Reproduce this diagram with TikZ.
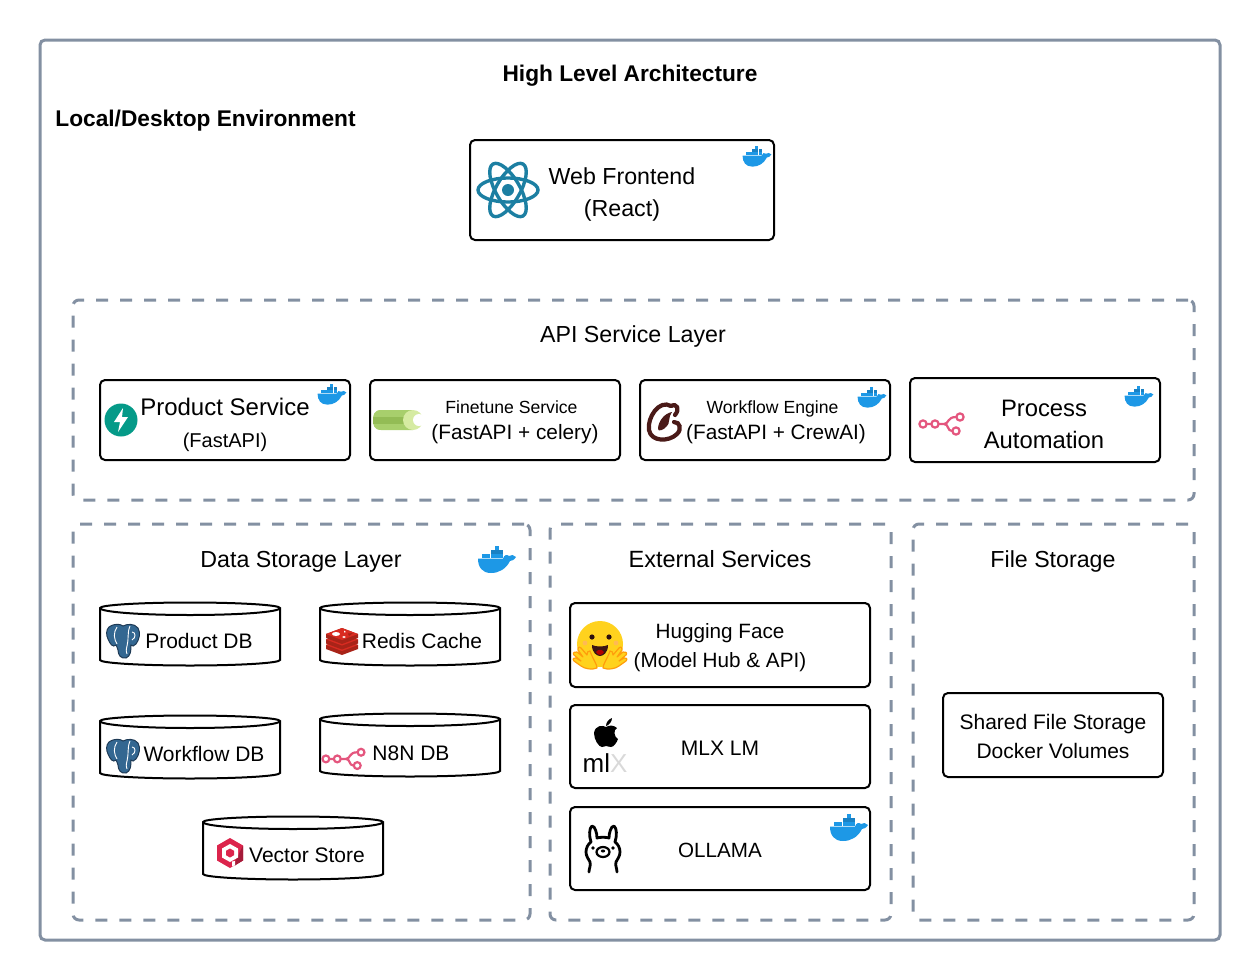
\documentclass[tikz,border=0pt]{standalone}
\usepackage{fontspec}
\setmainfont{Liberation Sans}
\usetikzlibrary{positioning}

\definecolor{framegray}{HTML}{8390A2}
\definecolor{dockerblue}{HTML}{1D98E6}
\definecolor{reactteal}{HTML}{1C7FA2}
\definecolor{fastteal}{HTML}{059A88}
\definecolor{n8npink}{HTML}{E4567E}
\definecolor{pgblue}{HTML}{336791}
\definecolor{pgdark}{HTML}{1E3A55}
\definecolor{redisred}{HTML}{D92B21}
\definecolor{redisdark}{HTML}{A82318}
\definecolor{qdrantred}{HTML}{DC244C}
\definecolor{crewbrown}{HTML}{4A1A18}
\definecolor{celerygreen}{HTML}{A8CF6C}
\definecolor{celerydark}{HTML}{93BC55}
\definecolor{celerylight}{HTML}{D6EBA2}
\definecolor{hfyellow}{HTML}{FFD21E}
\definecolor{hforange}{HTML}{FF9D0B}

\tikzset{
  dbdrum/.pic={
    \draw[line width=1pt] (-90,-26) .. controls (-90,-29) and (-50,-31.5) .. (0,-31.5)
      .. controls (50,-31.5) and (90,-29) .. (90,-26) -- (90,26)
      .. controls (90,29) and (50,31.5) .. (0,31.5) .. controls (-50,31.5) and (-90,29) .. (-90,26) -- cycle;
    \draw[line width=1pt] (-90,-26) .. controls (-90,-22) and (-50,-19) .. (0,-19)
      .. controls (50,-19) and (90,-22) .. (90,-26);
  },
  dockericon/.pic={
    \fill[dockerblue] (-19,-.5) -- (6,-.5) .. controls (7,-4) and (10,-5) .. (12,-3)
      .. controls (14,-5) and (17,-4) .. (19,-2) .. controls (17,1) and (15,2) .. (13,2)
      .. controls (9,10) and (2,14) .. (-6,14) .. controls (-15,14) and (-19,8) .. (-19,-.5) -- cycle;
    \foreach \i in {0,...,4}
      \fill[dockerblue] (-15+\i*4.3,-4.8) rectangle ++(3.9,3.9);
    \foreach \i in {2,3,4}
      \fill[dockerblue!85!black] (-15+\i*4.3,-9.1) rectangle ++(3.9,3.9);
    \fill[dockerblue] (-15+3*4.3,-13.4) rectangle ++(3.9,3.9);
  },
  reacticon/.pic={
    \foreach \a in {0,60,120}
      \draw[reactteal, line width=1.7pt, rotate=\a] (0,0) ellipse (30 and 12);
    \fill[reactteal] (0,0) circle (6);
  },
  fasticon/.pic={
    \fill[fastteal] (0,0) circle (16.5);
    \fill[white] (2,-12) -- (-7,2) -- (-1,2) -- (-3,12) -- (7,-3) -- (1,-3) -- cycle;
  },
  celeryicon/.pic={
    \fill[celerygreen] (15,-10) -- (-17,-10) .. controls (-24,-10) and (-25,-5) .. (-25,0)
      .. controls (-25,5) and (-24,10) .. (-17,10) -- (15,10) -- cycle;
    \fill[celerydark] (-25,-3.5) rectangle (14,3.5);
    \fill[celerylight] (15,0) circle (10);
    \fill[white] (21,0) circle (6);
  },
  crewicon/.pic={
    \draw[crewbrown, line width=2.1pt, line cap=round]
      (7,-15) .. controls (-5,-22) and (-17,-3) .. (-15,9)
      .. controls (-13,21) and (5,21) .. (13,13)
      .. controls (18,8) and (16,1) .. (10,1);
    \draw[crewbrown, line width=2.1pt, line cap=round]
      (7,-15) .. controls (13,-18) and (16,-12) .. (11,-6);
    \fill[crewbrown] (-6,8) .. controls (-6,0) and (1,-8) .. (8,-9)
      .. controls (4,-4) and (6,3) .. (3,5) .. controls (0,9) and (-6,11) .. (-6,8) -- cycle;
  },
  n8nicon/.pic={
    \draw[n8npink, line width=1.1pt]
      (-14.5,2) -- (-9,2) (-3,2) -- (3,2)
      .. controls (8,2) and (6,-5) .. (15,-5)
      (3,2) .. controls (8,2) and (6,9) .. (11,9);
    \foreach \p in {(-18,2),(-6,2),(19,-5),(15,9)}
      \draw[n8npink, line width=1.1pt] \p circle (3.6);
  },
  pgicon/.pic={
    \draw[pgblue, fill=pgblue, line width=.5pt, draw=pgdark]
      (-14,-14) .. controls (-8,-18) and (-3,-17) .. (0,-15)
      .. controls (4,-17) and (11,-18) .. (15,-13)
      .. controls (18,-8) and (16,-1) .. (13,3)
      .. controls (11,5) and (9,6) .. (8,4)
      .. controls (8,9) and (8,15) .. (3,17)
      .. controls (-2,18) and (-5,14) .. (-5,9)
      .. controls (-6,7) and (-6,5) .. (-7,4)
      .. controls (-10,7) and (-13,3) .. (-15,-2)
      .. controls (-17,-6) and (-17,-11) .. (-14,-14) -- cycle;
    \draw[white, line width=.45pt]
      (-6,-14) .. controls (-10,-8) and (-9,-2) .. (-6,3)
      (7,-15) .. controls (4,-8) and (6,-2) .. (4,5) .. controls (3,9) and (3,11) .. (4,13)
      (9,-9) .. controls (13,-9) and (13,-3) .. (9,-1);
  },
  redisicon/.pic={
    \foreach \y in {4,-1.5}{
      \fill[redisdark] (-16,\y) -- (0,\y-6) -- (16,\y) -- (16,\y+4) -- (0,\y+10) -- (-16,\y+4) -- cycle;
      \fill[redisred] (-16,\y) -- (0,\y-6) -- (16,\y) -- (0,\y+6) -- cycle;
    }
    \fill[redisdark] (-16,-7) -- (0,-13) -- (16,-7) -- (16,-3) -- (0,3) -- (-16,-3) -- cycle;
    \fill[redisred] (-16,-7) -- (0,-13) -- (16,-7) -- (0,-1) -- cycle;
    \fill[white] (-6,-7) ellipse (4 and 2);
    \fill[white] (2,-10.5) -- (4,-9) -- (2,-8.5) -- cycle;
    \fill[white] (2,-4) ellipse (1.8 and 1);
    \fill[redisdark] (6,-7.5) -- (11,-8) -- (7,-5) -- cycle;
  },
  qdranticon/.pic={
    \fill[qdrantred] (0,-15) -- (13,-7.5) -- (13,7.5) -- (6,11.5) -- (0,15) -- (-13,7.5) -- (-13,-7.5) -- cycle;
    \fill[qdrantred!75!black] (13,-7.5) -- (13,7.5) -- (5,12.5) -- (5,9) -- cycle;
    \fill[white] (0,-9) -- (8,-4.5) -- (8,4.5) -- (0,9) -- (-8,4.5) -- (-8,-4.5) -- cycle;
    \fill[qdrantred] (0,-4.5) -- (4,-2.2) -- (4,2.2) -- (0,4.5) -- (-4,2.2) -- (-4,-2.2) -- cycle;
    \fill[white] (2,8.5) -- (5,8) -- (5,12) -- (2,13.5) -- cycle;
  },
  hfacicon/.pic={
    \fill[hfyellow] (0,0) circle (23);
    \fill[crewbrown!60!black] (-8,-7) circle (2.6) (9,-7) circle (2.6);
    \fill[hforange!70!white] (-15,-1) circle (2.4) (16,-1) circle (2.4);
    \fill[crewbrown!80!black] (-8,1) .. controls (-4,3) and (4,3) .. (8,1) .. controls (8,9) and (3,12) .. (0,12) .. controls (-3,12) and (-8,9) .. (-8,1) -- cycle;
    \fill[red!70!black] (-4,8) .. controls (-2,5) and (2,5) .. (4,8) .. controls (2,12) and (-2,12) .. (-4,8) -- cycle;
    \foreach \s in {-1,1}{
      \begin{scope}[xscale=\s]
        \draw[hforange, fill=hfyellow, line width=.6pt, line join=round]
          (3,24) .. controls (8,26) and (15,25) .. (19,22) -- (26,17) .. controls (28,15) and (26,13) .. (24,14)
          -- (19,17) -- (26,11) .. controls (28,9) and (25,7) .. (23,8) -- (17,13) -- (22,6) .. controls (23,4) and (21,2) .. (19,4)
          -- (13,11) .. controls (13,8) and (12,7) .. (10,7) .. controls (9,10) and (7,14) .. (5,18) .. controls (4,20) and (3,22) .. (3,24) -- cycle;
      \end{scope}
    }
  },
  appleicon/.pic={
    \fill[black] (0,-6) .. controls (-3,-8) and (-11,-8) .. (-12,0) .. controls (-12,7) and (-7,14) .. (-4,14)
      .. controls (-2,14) and (-1,13) .. (0,13) .. controls (1,13) and (3,14) .. (5,14)
      .. controls (8,14) and (11,9) .. (12,6) .. controls (8,4) and (7,-3) .. (11,-5)
      .. controls (8,-8) and (3,-8) .. (0,-6) -- cycle;
    \fill[black] (0,-7) .. controls (0,-11) and (3,-14) .. (6,-15) .. controls (6,-11) and (3,-8) .. (0,-7) -- cycle;
  },
  llamaicon/.pic={
    \draw[black, line width=1.4pt, line join=round, line cap=round]
      (-14,23) .. controls (-14,19) and (-12,17) .. (-13,13) .. controls (-14,10) and (-17,8) .. (-17,3)
      .. controls (-17,-1) and (-15,-5) .. (-12,-7) .. controls (-14,-13) and (-14,-21) .. (-11,-23)
      .. controls (-8,-23) and (-6,-16) .. (-6,-11) .. controls (-3,-12) and (3,-12) .. (6,-11)
      .. controls (6,-16) and (8,-23) .. (11,-23) .. controls (14,-21) and (14,-13) .. (12,-7)
      .. controls (15,-5) and (17,-1) .. (17,3) .. controls (17,8) and (14,10) .. (13,13)
      .. controls (12,17) and (14,19) .. (14,23);
    \draw[black, line width=1.1pt] (0,3) ellipse (6.5 and 5);
    \fill[black] (-10,-1) circle (1.8) (10,-1) circle (1.8) (0,2) ellipse (2.2 and 1.5);
  }
}

\begin{document}
\begin{tikzpicture}[
    x=.5pt, y=-.5pt,
    framebox/.style={draw=framegray, line width=1.5pt, rounded corners=2.5pt, minimum width=590pt, minimum height=450pt},
    layerbox/.style={draw=framegray, line width=1.5pt, dash pattern=on 6pt off 6pt, rounded corners=3pt},
    svcbox/.style={draw, line width=1pt, rounded corners=2.5pt, inner sep=0pt},
    txt/.style={inner sep=0pt, align=center, font=\fontsize{11.6}{16}\selectfont},
    boldtxt/.style={inner sep=0pt, font=\fontsize{11.35}{14}\bfseries\selectfont},
    midtxt/.style={inner sep=0pt, align=center, font=\fontsize{10.5}{14.5}\selectfont},
    duotxt/.style={inner sep=0pt, align=center, font=\fontsize{10.4}{13}\selectfont}
  ]
  \useasboundingbox (0,0) rectangle (1260,980);

  % Outer frame
  \node[framebox] (frame) at (630,490) {};
  \node[boldtxt] (title) at (630,76) {High Level Architecture};
  \node[boldtxt, anchor=west] (local) at (55,121) {Local/Desktop Environment};

  % Frontend
  \node[svcbox, minimum width=152pt, minimum height=50pt] (web) at (622,190) {};
  \node[txt] (webtxt) at (622,194) {Web Frontend\\(React)};
  \pic at (508,190) {reacticon};
  \pic[scale=.76] at (757,156) {dockericon};

  % API layer
  \node[layerbox, minimum width=560.5pt, minimum height=100pt] (api) at (633.5,400) {};
  \node[txt] (apitxt) at (633,336) {API Service Layer};

  \node[svcbox, minimum width=125pt, minimum height=40pt] (product) at (225,420) {};
  \node[txt, font=\fontsize{12}{16}\selectfont] (producttxt) at (225,425) {Product Service\\{\fontsize{10}{13}\selectfont (FastAPI)}};
  \pic at (121,420) {fasticon};
  \pic[scale=.76] at (332,394) {dockericon};

  \node[svcbox, minimum width=125pt, minimum height=40pt] (finetune) at (495,420) {};
  \node[duotxt] (finetunetxt) at (515,422) {{\fontsize{8.8}{13}\selectfont Finetune Service}\hspace*{3.5pt}\\(FastAPI + celery)};
  \pic at (398,420) {celeryicon};

  \node[svcbox, minimum width=125pt, minimum height=40pt] (engine) at (765,420) {};
  \node[duotxt] (enginetxt) at (776,422) {{\fontsize{8.8}{13}\selectfont Workflow Engine}\hspace*{3.5pt}\\(FastAPI + CrewAI)};
  \pic at (664,421) {crewicon};
  \pic[scale=.76] at (872,397) {dockericon};

  \node[svcbox, minimum width=125pt, minimum height=42pt] (automation) at (1035,420) {};
  \node[txt, font=\fontsize{11.9}{16}\selectfont] (automationtxt) at (1044,424) {Process\\Automation};
  \pic at (941,422) {n8nicon};
  \pic[scale=.76] at (1139,396) {dockericon};

  % Data storage
  \node[layerbox, minimum width=228.5pt, minimum height=198pt] (data) at (301.5,722) {};
  \node[txt] (datatxt) at (301,562) {Data Storage Layer};
  \pic at (497,559) {dockericon};

  \pic (productdb) at (190,634) {dbdrum};
  \node[midtxt] (productdbtxt) at (199,641) {Product DB};
  \pic at (123,641) {pgicon};

  \pic (redis) at (410,634) {dbdrum};
  \node[midtxt] (redistxt) at (422,641) {Redis Cache};
  \pic at (342,641) {redisicon};

  \pic (workflowdb) at (190,747) {dbdrum};
  \node[midtxt] (workflowdbtxt) at (204,754) {Workflow DB};
  \pic at (123,756) {pgicon};

  \pic (n8ndb) at (410,745) {dbdrum};
  \node[midtxt] (n8ndbtxt) at (411,753) {N8N DB};
  \pic[scale=.95] at (343,757) {n8nicon};

  \pic (vector) at (293,848) {dbdrum};
  \node[midtxt] (vectortxt) at (307,855) {Vector Store};
  \pic at (230,853) {qdranticon};

  % External services
  \node[layerbox, minimum width=170.5pt, minimum height=198pt] (external) at (720.5,722) {};
  \node[txt, font=\fontsize{11.75}{16}\selectfont] (externaltxt) at (720,559) {External Services};

  \node[svcbox, minimum width=150pt, minimum height=42pt] (hface) at (720,645) {};
  \node[midtxt, font=\fontsize{10.35}{14.5}\selectfont] (hfacetxt) at (720,648) {Hugging Face\\(Model Hub \& API)};
  \pic at (600,644) {hfacicon};

  \node[svcbox, minimum width=150pt, minimum height=41.5pt] (mlx) at (720,746.5) {};
  \node[midtxt] (mlxtxt) at (720,748) {MLX LM};
  \pic at (606,733) {appleicon};
  \node[txt, font=\fontsize{13}{14}\selectfont] (mlxlogo) at (605,763) {ml\textcolor{black!15}{X}};

  \node[svcbox, minimum width=150pt, minimum height=41.5pt] (ollama) at (720,848.5) {};
  \node[midtxt, font=\fontsize{10.3}{13}\selectfont] (ollamatxt) at (720,850) {OLLAMA};
  \pic at (603,849) {llamaicon};
  \pic at (849,827) {dockericon};

  % File storage
  \node[layerbox, minimum width=140.5pt, minimum height=198pt] (files) at (1053.5,722) {};
  \node[txt] (filestxt) at (1053,561) {File Storage};

  \node[svcbox, minimum width=110pt, minimum height=42pt] (shared) at (1053,735) {};
  \node[midtxt] (sharedtxt) at (1053,736) {Shared File Storage\\Docker Volumes};
\end{tikzpicture}
\end{document}
